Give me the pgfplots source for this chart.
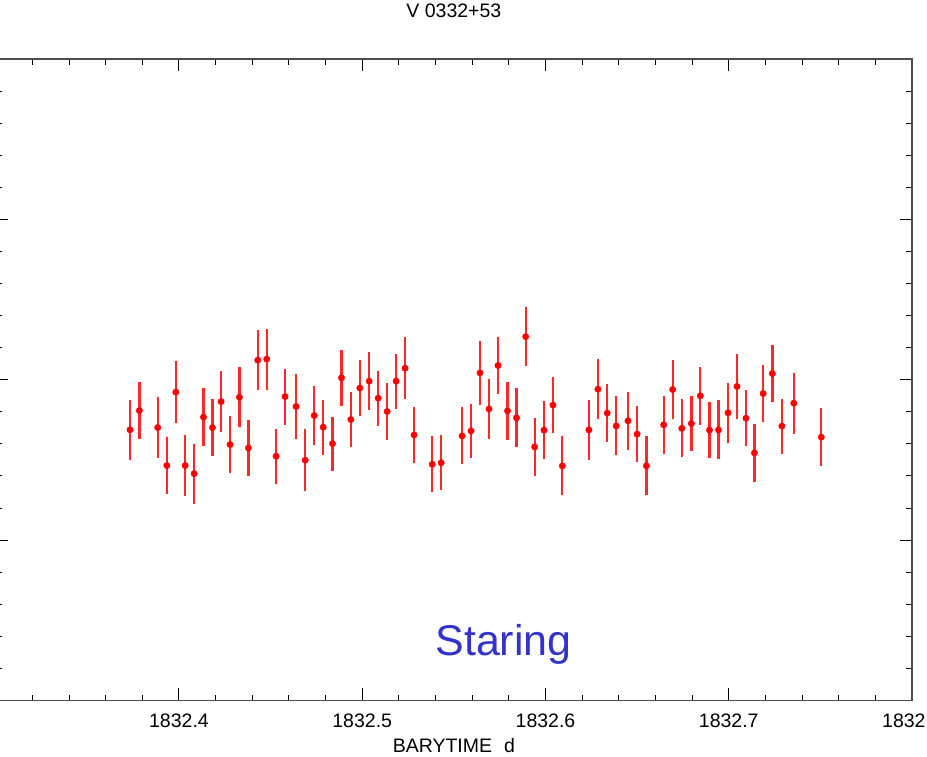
\documentclass[border=0pt]{standalone}
\usepackage{pgfplots}
\pgfplotsset{compat=1.18}
\usepackage{fontspec}
\setmainfont{Liberation Sans}
\definecolor{stblue}{RGB}{51,51,204}
\definecolor{ebred}{RGB}{255,40,40}
\pgfplotstableread{
x y e
0.3733 1.688 0.188
0.3784 1.808 0.180
0.3884 1.702 0.189
0.3934 1.465 0.179
0.3983 1.923 0.195
0.4034 1.465 0.192
0.4083 1.415 0.187
0.4134 1.767 0.183
0.4183 1.702 0.175
0.4230 1.864 0.188
0.4279 1.596 0.180
0.4330 1.891 0.187
0.4379 1.575 0.175
0.4430 2.122 0.187
0.4479 2.129 0.190
0.4530 1.523 0.171
0.4579 1.895 0.175
0.4639 1.833 0.204
0.4689 1.498 0.192
0.4738 1.777 0.184
0.4787 1.704 0.172
0.4838 1.602 0.168
0.4887 2.012 0.176
0.4938 1.752 0.172
0.4987 1.948 0.176
0.5038 1.991 0.180
0.5087 1.885 0.172
0.5136 1.802 0.180
0.5185 1.991 0.172
0.5234 2.072 0.192
0.5283 1.656 0.176
0.5382 1.473 0.176
0.5431 1.482 0.172
0.5545 1.650 0.177
0.5594 1.681 0.168
0.5643 2.043 0.200
0.5692 1.818 0.187
0.5741 2.089 0.180
0.5793 1.806 0.181
0.5842 1.762 0.184
0.5892 2.269 0.184
0.5941 1.581 0.180
0.5992 1.686 0.180
0.6041 1.842 0.176
0.6092 1.463 0.184
0.6237 1.687 0.189
0.6286 1.941 0.187
0.6337 1.792 0.181
0.6386 1.712 0.184
0.6450 1.744 0.180
0.6500 1.661 0.176
0.6551 1.463 0.184
0.6645 1.719 0.180
0.6694 1.939 0.183
0.6744 1.697 0.180
0.6796 1.727 0.171
0.6845 1.900 0.180
0.6895 1.686 0.175
0.6944 1.687 0.184
0.6996 1.794 0.188
0.7045 1.958 0.203
0.7094 1.760 0.175
0.7140 1.544 0.179
0.7188 1.914 0.180
0.7238 2.039 0.179
0.7290 1.711 0.172
0.7355 1.854 0.191
0.7505 1.642 0.182
}\datatable
\begin{document}
\begin{tikzpicture}
\useasboundingbox (0pt,0pt) rectangle (927pt,756pt);
\clip (0pt,0pt) rectangle (927pt,756pt);
\begin{axis}[
  at={(-4.3pt,55.5pt)}, anchor=south west,
  scale only axis, width=916.3pt, height=641.5pt,
  xmin=0.3, xmax=0.8, ymin=0, ymax=4,
  xtick={0.4,0.5,0.6,0.7,0.8},
  xticklabels={1832.4,1832.5,1832.6,1832.7,1832.8},
  minor xtick={0.32,0.34,0.36,0.38,0.42,0.44,0.46,0.48,0.52,0.54,0.56,0.58,0.62,0.64,0.66,0.68,0.72,0.74,0.76,0.78},
  ytick={0,1,2,3,4}, yticklabels={},
  minor ytick={0.2,0.4,0.6,0.8,1.2,1.4,1.6,1.8,2.2,2.4,2.6,2.8,3.2,3.4,3.6,3.8},
  tick align=inside,
  major tick length=12pt, minor tick length=6pt,
  every tick/.style={black, line width=1pt},
  axis line style={black!70, line width=1.6pt},
  xticklabel style={font=\fontsize{19.5}{19.5}\selectfont, anchor=north, inner sep=0pt, yshift=-13.5pt},
  title={V 0332+53},
  title style={at={(0.5,1)}, anchor=base, inner sep=0pt, yshift=35pt, font=\fontsize{19.5}{19.5}\selectfont},
  xlabel={BARYTIME\hspace{12pt}d},
  xlabel style={at={(0.5,0)}, anchor=base, inner sep=0pt, yshift=-51.5pt, font=\fontsize{19.5}{19.5}\selectfont},
]
\addplot[only marks, mark=*, mark size=3.2pt, color=red,
  error bars/.cd, y dir=both, y explicit, error mark=none,
  error bar style={line width=2.3pt, ebred}]
  table[x=x, y=y, y error=e] {\datatable};
\node[font=\fontsize{43}{43}\selectfont, text=stblue, anchor=base] at (axis description cs:0.5542,0.0694) {Staring};
\end{axis}
\end{tikzpicture}
\end{document}
